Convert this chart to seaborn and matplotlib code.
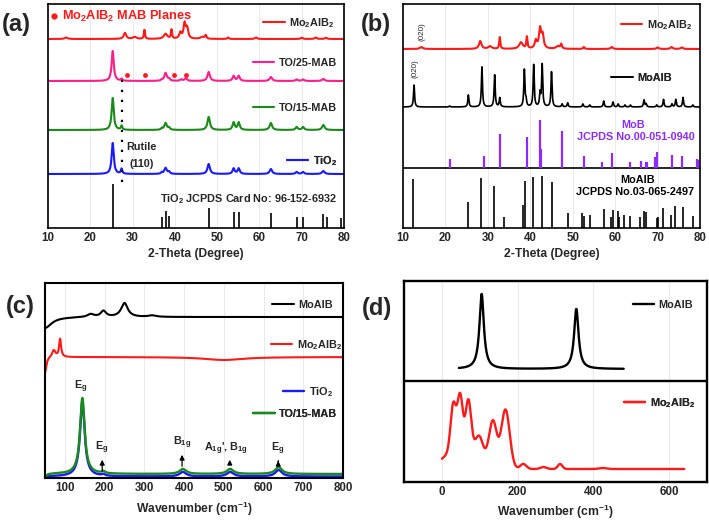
import numpy as np
import matplotlib
matplotlib.use("Agg")
import matplotlib.pyplot as plt
from matplotlib.ticker import MultipleLocator
import seaborn as sns

# ---------------- data ----------------
# (a)/(b) XRD, Mo2AlB2 pattern: peak positions (2-theta), intensities, half widths
MAB_POS = [14.3, 28.2, 30.5, 32.8, 37.8, 39.2, 41.3, 42.3, 42.9, 46.5, 47.3, 52.6, 59.2, 70.0, 73.3, 75.7]
MAB_INT = [1.5, 6, 2, 9, 5, 9, 6, 15, 10, 2, 3.5, 1.5, 1.5, 1.2, 1.5, 1.2]
MAB_HW = [0.4, 0.35, 0.5, 0.15, 0.5, 0.15, 0.3, 0.3, 0.3, 0.5, 0.2, 0.2, 0.3, 0.3, 0.3, 0.3]

# anatase TiO2 based samples
TIO2_POS = [25.3, 27.4, 36.9, 37.8, 38.6, 48.0, 53.9, 55.1, 62.7, 68.8, 70.3, 75.1]
TIO2_HW = [0.3, 0.2, 0.2, 0.35, 0.25, 0.35, 0.3, 0.3, 0.35, 0.3, 0.3, 0.35]
TO25_INT = [30, 2, 1, 8, 2, 9, 5, 5, 4, 1.5, 1.5, 2]
TO15_INT = [32, 4, 1.5, 7, 2, 13, 7.5, 7.5, 7, 3, 3, 5]
TIO2_INT = [31, 5, 1.5, 6, 2, 10, 5.5, 5.5, 5, 2, 2, 3]
TO25_EXTRA_POS = [41.5, 42.6]
TO25_EXTRA_INT = [1.5, 3]
MAB_PLANES = [28.6, 33.0, 39.7, 42.7]  # red dots on TO/25-MAB

TIO2_REF_POS = [25.3, 37.0, 37.8, 38.6, 48.0, 53.9, 55.1, 62.7, 68.8, 70.3, 75.0, 76.0, 79.4]
TIO2_REF_INT = [44, 11, 17, 12, 20, 16, 16, 15, 11, 11, 14, 11, 10]

# (b) MoAlB XRD
MOALB_POS = [12.6, 21.0, 25.4, 28.6, 31.6, 32.8, 38.6, 39.0, 40.8, 42.3, 42.8, 45.0, 47.5, 48.8, 52.4,
             54.0, 57.3, 59.5, 60.7, 62.3, 63.6, 66.8, 67.3, 69.8, 71.4, 73.4, 74.3, 76.0, 78.3]
MOALB_INT = [22, 1, 12, 40, 32, 9, 37, 6, 42, 13, 42, 35, 3, 4, 3,
             2, 6, 5, 3, 2, 2, 7, 3, 2, 7.5, 3, 7.5, 9.5, 2]
MOB_REF_POS = [21.0, 29.2, 32.8, 39.2, 42.3, 42.6, 47.4, 52.6, 57.0, 59.2, 63.5, 66.0, 67.3, 67.6,
               69.4, 69.8, 73.3, 75.7, 79.2, 79.5]
MOB_REF_INT = [9, 12, 34, 31, 48, 19, 37, 12, 6, 15.5, 6, 7, 6, 6, 11, 16.5, 13, 12, 9, 8]
MOALB_REF_POS = [12.4, 25.4, 28.4, 31.5, 33.8, 38.4, 38.7, 40.7, 42.8, 45.0, 48.8, 52.3, 52.6, 54.0,
                 57.3, 59.0, 59.4, 60.6, 61.0, 62.1, 63.6, 65.8, 66.8, 67.2, 69.8, 70.2, 71.3, 73.2,
                 74.2, 76.0, 78.4]
MOALB_REF_INT = [49, 26, 50, 42, 11, 23, 47, 51, 52, 46, 15, 15, 12, 13,
                 19, 11, 18, 17, 11, 13, 12, 11, 17, 16, 10, 11, 20, 13,
                 22, 21, 12]

# (c) Raman spectra (wavenumber, intensity, half width)
R_MOALB_POS = [50, 165, 197, 250, 320]
R_MOALB_INT = [-11, 3, 6, 14, 1.5]
R_MOALB_HW = [20, 10, 8, 10, 12]
R_MAB_POS = [50, 72, 88, 500]
R_MAB_INT = [-16, 7, 18, -3]
R_MAB_HW = [4, 5, 3, 60]
R_TIO2_POS = [50, 144, 197, 397, 516, 638]
R_TIO2_HW = [4, 7, 5, 10, 10, 10]
R_TO15_INT = [-4, 76, 2, 5, 5, 7]
R_TIO2_INT = [-1.5, 75, 1.5, 4.5, 4.5, 6.5]

# (d) calculated Raman
D_MOALB_POS = [105, 355]
D_MOALB_INT = [75, 60]
D_MOALB_HW = [7, 7]
D_MAB_POS = [30, 48, 70, 99, 135, 168, 215, 268, 312, 425, 60]
D_MAB_INT = [45, 50, 45, 16, 42, 58, 5, 2, 5, 1, 25]
D_MAB_SD = [7, 7, 7, 9, 10, 11, 8, 8, 6, 10, 45]

# ---------------- helpers ----------------
def lor(x, pos, inten, hw):
    y = np.zeros_like(x)
    for c, h, w in zip(pos, inten, hw):
        y += h / (1 + ((x - c) / w) ** 2)
    return y


def gau(x, pos, inten, sd):
    y = np.zeros_like(x)
    for c, h, s in zip(pos, inten, sd):
        y += h * np.exp(-0.5 * ((x - c) / s) ** 2)
    return y


sns.set_theme(style="white")
plt.rcParams.update({
    "font.family": ["Liberation Sans", "DejaVu Sans"],
    "font.weight": "bold",
    "axes.labelweight": "bold",
    "mathtext.fontset": "custom",
    "mathtext.rm": "Liberation Sans:bold",
    "mathtext.bf": "Liberation Sans:bold",
    "mathtext.it": "Liberation Sans:bold",
    "mathtext.default": "bf",
    "axes.edgecolor": "black",
})

W, H = 709, 523
fig = plt.figure(figsize=(W / 100, H / 100), dpi=100)
fig.patch.set_facecolor("white")

RED = "#ff1a1a"
PINK = "#ff1f8a"
GREEN = "#1a8a1a"
BLUE = "#1a1aff"
PURPLE = "#8c2bff"
FS = 7.8


def add_ax(l, t, r, b, lw):
    ax = fig.add_axes([l / W, 1 - b / H, (r - l) / W, (b - t) / H])
    for s in ax.spines.values():
        s.set_linewidth(lw)
        s.set_color("black")
    ax.set_yticks([])
    ax.tick_params(axis="x", which="major", direction="in", length=3, width=1, labelsize=8.3, pad=3)
    ax.tick_params(axis="x", which="minor", direction="in", length=1.5, width=0.8)
    ax.grid(axis="x", color="#e6e6e6", lw=0.6)
    ax.set_axisbelow(True)
    return ax


def tag(ax, handle, text, xf, yf):
    leg = ax.legend(handles=[handle], labels=[text], loc="center right", bbox_to_anchor=(xf, yf),
                    frameon=False, fontsize=FS, handlelength=2.0, handletextpad=0.4,
                    borderpad=0, borderaxespad=0)
    ax.add_artist(leg)


def curve(ax, x, y, color, lw=1.5):
    sns.lineplot(x=x, y=y, ax=ax, color=color, lw=lw, estimator=None)
    return ax.lines[-1]


MAB_LBL = "Mo$_2$AlB$_2$"

# ---------------- (a) ----------------
axA = add_ax(48, 4, 344, 228, 1.2)
xa = np.linspace(10, 80, 7001)
hA = curve(axA, xa, 189 + lor(xa, MAB_POS, MAB_INT, MAB_HW), RED)
hB = curve(axA, xa, 147 + lor(xa, TIO2_POS, TO25_INT, TIO2_HW)
           + lor(xa, TO25_EXTRA_POS, TO25_EXTRA_INT, [0.3, 0.3]), PINK)
hC = curve(axA, xa, 98 + lor(xa, TIO2_POS, TO15_INT, TIO2_HW), GREEN)
hD = curve(axA, xa, 54 + lor(xa, TIO2_POS, TIO2_INT, TIO2_HW), BLUE)
axA.vlines(TIO2_REF_POS, 0, TIO2_REF_INT, color="black", lw=1.2)
axA.vlines(27.4, 46, 156, color="black", lw=1.6, linestyles=(0, (1, 3.5)))
sns.scatterplot(x=MAB_PLANES, y=[153] * len(MAB_PLANES), ax=axA, color=RED, s=12,
                edgecolor=RED, linewidth=0)
axA.plot([11.4], [212], "o", color=RED, ms=3.5)
axA.text(13.4, 212, "Mo$_2$AlB$_2$ MAB Planes", color=RED, fontsize=9.2, va="center", ha="left")
axA.text(32.2, 81, "Rutile", fontsize=FS, ha="center", va="center")
axA.text(32.2, 64, "(110)", fontsize=FS, ha="center", va="center")
axA.text(0.976, 0.129, "TiO$_2$ JCPDS Card No: 96-152-6932", transform=axA.transAxes,
         fontsize=FS, ha="right", va="center")
tag(axA, hA, MAB_LBL, 0.968, 0.915)
tag(axA, hB, "TO/25-MAB", 0.976, 0.738)
tag(axA, hC, "TO/15-MAB", 0.976, 0.536)
tag(axA, hD, "TiO$_2$", 0.976, 0.300)
axA.set_xlim(10, 80)
axA.set_ylim(0, 224)
axA.xaxis.set_major_locator(MultipleLocator(10))
axA.xaxis.set_minor_locator(MultipleLocator(5))
axA.set_xlabel("2-Theta (Degree)", fontsize=8.7, labelpad=3)
axA.set_ylabel("Intensity (a.u.)", fontsize=8.7, labelpad=4)

# ---------------- (b) ----------------
axB = add_ax(403, 4, 700, 228, 1.2)
hE = curve(axB, xa, 179 + 1.3 * lor(xa, MAB_POS, MAB_INT, MAB_HW), RED)
hF = curve(axB, xa, 121 + lor(xa, MOALB_POS, MOALB_INT, [0.15] * len(MOALB_POS)), "black", lw=1.2)
axB.axhline(60, color="black", lw=1.2)
axB.vlines(MOB_REF_POS, 60, 60 + np.array(MOB_REF_INT), color=PURPLE, lw=1.6)
axB.vlines(MOALB_REF_POS, 0, MOALB_REF_INT, color="black", lw=1.2)
axB.text(14.4, 196, "(020)", rotation=90, fontsize=5.8, fontweight="normal", ha="center", va="center")
axB.text(12.8, 159, "(020)", rotation=90, fontsize=5.8, fontweight="normal", ha="center", va="center")
axB.text(64.3, 103, "MoB", color=PURPLE, fontsize=FS, ha="center", va="center")
axB.text(64.8, 91, "JCPDS No.00-051-0940", color=PURPLE, fontsize=FS, ha="center", va="center")
axB.text(65.2, 48, "MoAlB", color="black", fontsize=FS, ha="center", va="center")
axB.text(64.8, 36, "JCPDS No.03-065-2497", color="black", fontsize=FS, ha="center", va="center")
tag(axB, hE, MAB_LBL, 0.972, 0.906)
tag(axB, hF, "MoAlB", 0.905, 0.670)
axB.set_xlim(10, 80)
axB.set_ylim(0, 224)
axB.xaxis.set_major_locator(MultipleLocator(10))
axB.xaxis.set_minor_locator(MultipleLocator(5))
axB.set_xlabel("2-Theta (Degree)", fontsize=8.7, labelpad=3)
axB.set_ylabel("Intensity (a.u.)", fontsize=8.7, labelpad=4)

# ---------------- (c) ----------------
axC = add_ax(45, 283, 343, 478, 1.5)
xc = np.linspace(50, 800, 3001)
hG = curve(axC, xc, 161 + lor(xc, R_MOALB_POS, R_MOALB_INT, R_MOALB_HW), "black")
hH = curve(axC, xc, 121 + lor(xc, R_MAB_POS, R_MAB_INT, R_MAB_HW), RED)
hI = curve(axC, xc, 1.5 + lor(xc, R_TIO2_POS, R_TIO2_INT, R_TIO2_HW), BLUE, lw=1.7)
hJ = curve(axC, xc, 4 + lor(xc, R_TIO2_POS, R_TO15_INT, R_TIO2_HW), GREEN, lw=1.7)
arrow = dict(arrowstyle="-|>", color="black", lw=0.9, mutation_scale=7)
for (ax_x, y0, y1) in [(194, 4, 21), (395, 9, 26), (515, 11, 21), (637, 14, 20)]:
    axC.annotate("", xy=(ax_x, y1), xytext=(ax_x, y0), arrowprops=arrow)
axC.text(141, 91, "E$_g$", fontsize=FS, ha="center", va="center")
axC.text(193, 30, "E$_g$", fontsize=FS, ha="center", va="center")
axC.text(395, 35, "B$_{1g}$", fontsize=FS, ha="center", va="center")
axC.text(505, 29, "A$_{1g}$', B$_{1g}$", fontsize=FS, ha="center", va="center")
axC.text(636, 29, "E$_g$", fontsize=FS, ha="center", va="center")
tag(axC, hG, "MoAlB", 0.966, 0.887)
tag(axC, hH, MAB_LBL, 0.996, 0.682)
tag(axC, hI, "TiO$_2$", 0.966, 0.443)
tag(axC, hJ, "TO/15-MAB", 0.98, 0.328)
axC.set_xlim(50, 800)
axC.set_ylim(0, 195)
axC.xaxis.set_major_locator(MultipleLocator(100))
axC.xaxis.set_minor_locator(MultipleLocator(50))
axC.set_xlabel("Wavenumber (cm$^{-1}$)", fontsize=8.7, labelpad=4)
axC.set_ylabel("Intensity (a.u.)", fontsize=8.7, labelpad=9)

# ---------------- (d) ----------------
axD = add_ax(404, 281, 707, 482, 1.7)
xd1 = np.linspace(45, 480, 2001)
xd2 = np.linspace(0, 640, 2001)
hK = curve(axD, xd1, 113 + lor(xd1, D_MOALB_POS, D_MOALB_INT, D_MOALB_HW), "black", lw=1.7)
hL = curve(axD, xd2, 13 + gau(xd2, D_MAB_POS, D_MAB_INT, D_MAB_SD), RED, lw=1.7)
axD.axhline(101, color="black", lw=1.7)
tag(axD, hK, "MoAlB", 0.955, 0.881)
tag(axD, hL, MAB_LBL, 0.960, 0.393)
axD.set_xlim(-100, 700)
axD.set_ylim(0, 201)
axD.xaxis.set_major_locator(MultipleLocator(200))
axD.xaxis.set_minor_locator(MultipleLocator(100))
axD.set_xlabel("Wavenumber (cm$^{-1}$)", fontsize=8.7, labelpad=3)
axD.set_ylabel("Intensity (a.u.)", fontsize=8.7, labelpad=7)

# panel letters
for lbl, (px, py) in {"(a)": (16, 25), "(b)": (376, 25), "(c)": (20, 307), "(d)": (377, 308)}.items():
    fig.text(px / W, 1 - py / H, lbl, fontsize=17, fontweight="bold", ha="center", va="center")

fig.savefig("out.png", dpi=100, facecolor="white")
